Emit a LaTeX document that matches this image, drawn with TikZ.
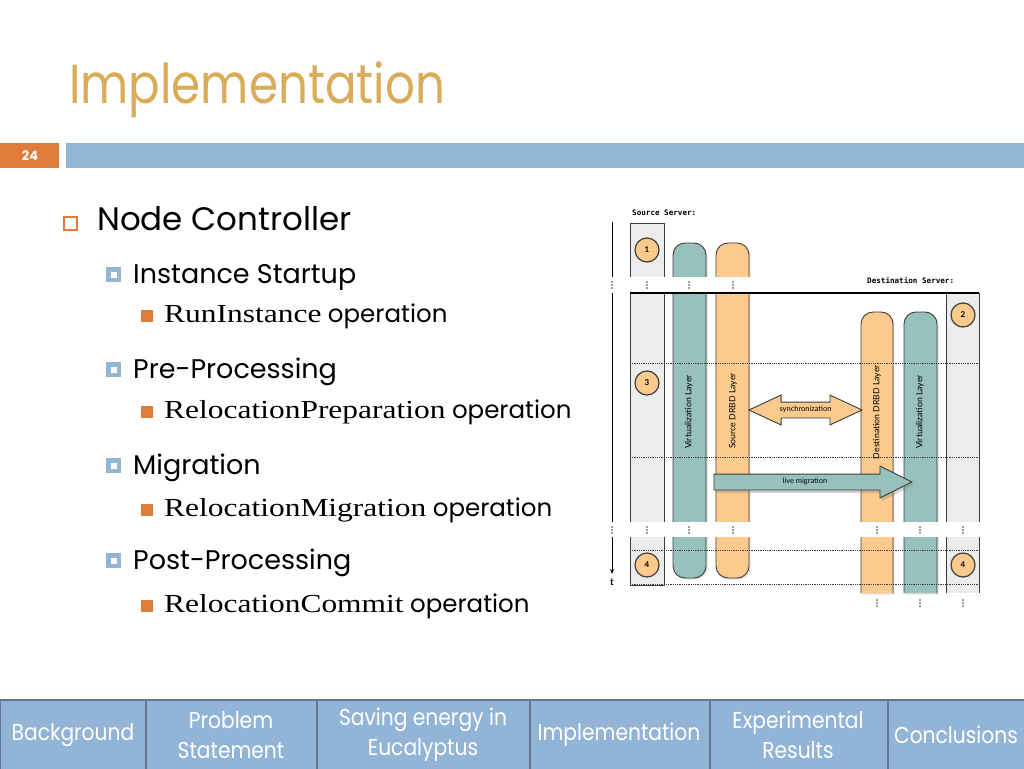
\documentclass[tikz,border=0pt]{standalone}
\usepackage{fontspec}
\setmainfont{Poppins}
\newfontfamily\titlefont[FakeStretch=0.85]{Poppins}
\newfontfamily\serifop[FakeStretch=1.21]{Liberation Serif}
\newfontfamily\tabfont[FakeStretch=0.88]{Poppins}
\newfontfamily\figfont{Lato}
\newfontfamily\monofig{DejaVu Sans Mono}
\usepackage{tikz}
\usetikzlibrary{shadows}
\usetikzlibrary{positioning}
\usetikzlibrary{arrows.meta,shapes}
\usetikzlibrary{shadings,shadows,shapes.arrows}
\usetikzlibrary{calc}
\definecolor{titlegold}{RGB}{216,172,88}
\definecolor{barblue}{RGB}{147,182,212}
\definecolor{numorange}{RGB}{224,124,58}
\definecolor{cellblue}{RGB}{146,180,214}
\definecolor{celledge}{RGB}{96,118,146}
\definecolor{pillteal}{RGB}{152,192,188}
\definecolor{pillorange}{RGB}{252,202,140}
\definecolor{srvgray}{RGB}{236,236,236}
\definecolor{edge}{RGB}{60,60,60}
\newcommand{\opname}[1]{{\serifop\fontsize{26}{28}\selectfont #1}}

\begin{document}
\begin{tikzpicture}[x=1pt,y=-1pt,
  lvlone/.style={anchor=base west,inner sep=0pt,font=\fontsize{32.5}{34}\selectfont},
  lvltwo/.style={anchor=base west,inner sep=0pt,font=\fontsize{27}{29}\selectfont},
  lvlthree/.style={anchor=base west,inner sep=0pt,font=\fontsize{24.5}{26}\selectfont},
  tabcell/.style={fill=cellblue,draw=celledge,line width=1.5pt},
  tabtext/.style={align=center,text=white,inner sep=0pt,font=\tabfont\fontsize{23}{30}\selectfont},
  srvcol/.style={fill=srvgray,draw=edge,line width=0.9pt},
  tealpill/.style={fill=pillteal,draw=edge,line width=0.9pt,rounded corners=12pt,drop shadow={shadow xshift=1.5pt,shadow yshift=-1.5pt,opacity=0.25}},
  orangepill/.style={fill=pillorange,draw=edge,line width=0.9pt,rounded corners=12pt,drop shadow={shadow xshift=1.5pt,shadow yshift=-1.5pt,opacity=0.25}},
  numcirc/.style={circle,draw=edge,line width=1.2pt,fill=pillorange,minimum size=24pt,inner sep=0pt,font=\figfont\bfseries\fontsize{8}{8}\selectfont},
  layerlbl/.style={rotate=90,inner sep=0pt,font=\figfont\fontsize{8.7}{9}\selectfont},
  srvlbl/.style={anchor=west,inner sep=0pt,font=\monofig\bfseries\fontsize{7.6}{8}\selectfont},
  sepline/.style={densely dotted,line width=0.8pt,edge}]
\useasboundingbox (0,0) rectangle (1024,768);
\fill[white] (0,0) rectangle (1024,768);

\node[anchor=base west,inner sep=0pt,text=titlegold,font=\titlefont\fontsize{55}{60}\selectfont] (title) at (69,103) {Implementation};
\fill[numorange] (0,143) rectangle (59,168);
\fill[barblue] (66,143) rectangle (1024,168);
\node[text=white,font=\bfseries\fontsize{13}{14}\selectfont] (slnum) at (30,156) {24};

\draw[numorange,line width=1.4pt] (64,217) rectangle (77,230);
\node[lvlone] (nc) at (97,230) {Node Controller};
\foreach \y in {283,378,474,569} {
  \fill[barblue] (106,\y-16) rectangle (121,\y-1);
  \fill[white] (110.5,\y-11.5) rectangle (116.5,\y-5.5);
}
\foreach \y in {322,418,516,612} \fill[numorange] (141,\y-12) rectangle (153,\y);
\node[lvltwo] (ist) at (133,283) {Instance Startup};
\node[lvlthree] (rin) at (164,322) {\opname{RunInstance} operation};
\node[lvltwo] (pre) at (133,378) {Pre-Processing};
\node[lvlthree] (rpr) at (164,418) {\opname{RelocationPreparation} operation};
\node[lvltwo] (mig) at (133,474) {Migration};
\node[lvlthree] (rmi) at (164,516) {\opname{RelocationMigration} operation};
\node[lvltwo] (pos) at (133,569) {Post-Processing};
\node[lvlthree] (rco) at (164,612) {\opname{RelocationCommit} operation};

\filldraw[srvcol] (630,223) rectangle (664,585);
\path[srvcol] (946,593) -- (946,293) -- (979,293) -- (979,593);
\path[tealpill] (673,243) rectangle (706,578);
\path[orangepill] (716,243) rectangle (749,578);
\path[orangepill] (861,593) -- (861,312) -- (893,312) -- (893,593);
\path[tealpill] (904,593) -- (904,312) -- (937,312) -- (937,593);
\fill[white] (605,277) rectangle (985,292);
\fill[white] (605,522) rectangle (985,537);

\draw[line width=1.5pt] (630,293) -- (979,293);
\foreach \y in {363,457,550,584} \draw[sepline] (630,\y) -- (979,\y);
\foreach \x/\y in {612/285,647/285,689/285,733/285,612/530,647/530,689/530,733/530,877/530,920/530,963/530,877/603,920/603,963/603}
  \foreach \d in {-3,0,3} \fill[edge] (\x,\y+\d) circle (0.9);

\coordinate (t0) at (612,222);
\coordinate (t1) at (612,277);
\coordinate (t2) at (612,293);
\coordinate (t3) at (612,522);
\coordinate (t4) at (612,537);
\coordinate (t5) at (612,574);
\draw[line width=0.9pt] (t0) -- (t1);
\draw[line width=0.9pt] (t2) -- (t3);
\draw[line width=0.9pt,-{Stealth[length=5pt,width=4pt]}] (t4) -- (t5);
\node[font=\figfont\bfseries\fontsize{10}{10}\selectfont] (tlab) at (612,582) {t};

\node[srvlbl] (srcsrv) at (632,213) {Source Server:};
\node[srvlbl] (dstsrv) at (867,280) {Destination Server:};

\node[numcirc] (n1) at (647,250) {1};
\node[numcirc] (n2) at (963,315) {2};
\node[numcirc] (n3) at (647,383) {3};
\node[numcirc] (n4a) at (647,565) {4};
\node[numcirc] (n4b) at (963,565) {4};

\node[layerlbl] (vls) at (689,412) {Virtualization Layer};
\node[layerlbl] (dbs) at (733,411) {Source DRBD Layer};
\node[layerlbl] (dbd) at (877,412) {Destination DRBD Layer};
\node[layerlbl] (vld) at (920,412) {Virtualization Layer};

\node[double arrow,draw=edge,fill=pillorange,line width=0.9pt,minimum height=113pt,double arrow head extend=7pt,double arrow tip angle=50,inner ysep=4.25pt,text height=5pt,text depth=1.5pt,font=\figfont\fontsize{7.5}{8}\selectfont] (sync) at (805.5,410) {synchronization};
\node[single arrow,draw=edge,fill=pillteal,line width=0.9pt,minimum height=198pt,single arrow head extend=8pt,single arrow tip angle=53,inner ysep=4.25pt,text height=5pt,text depth=1.5pt,font=\figfont\fontsize{7.5}{8}\selectfont,drop shadow={shadow xshift=2pt,shadow yshift=-3pt,opacity=0.35}] (live) at (805,482) {live migration};

\foreach \a/\b in {0/146,146/317,317/530,530/710,710/888,888/1026} \filldraw[tabcell] (\a,700) rectangle (\b,770);
\node[tabtext] (tbg) at (73,735) {Background};
\node[tabtext] (tps) at (231,735) {Problem\\Statement};
\node[tabtext] (tse) at (423,735) {Saving energy in\\Eucalyptus};
\node[tabtext] (tim) at (619,735) {Implementation};
\node[tabtext] (ter) at (798,735) {Experimental\\Results};
\node[tabtext] (tco) at (956,735) {Conclusions};
\end{tikzpicture}
\end{document}
